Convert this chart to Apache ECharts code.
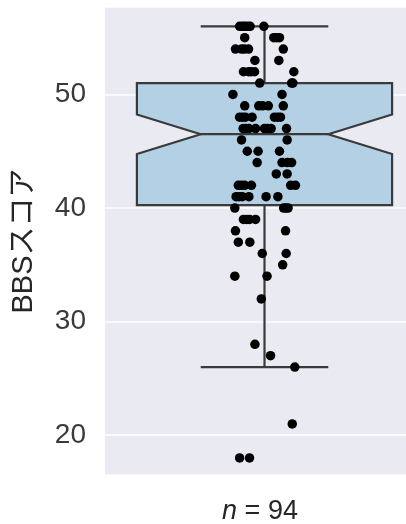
<!DOCTYPE html>
<html>
<head>
<meta charset="utf-8">
<script src="https://cdn.jsdelivr.net/npm/echarts@6/dist/echarts.min.js"></script>
<style>
  html, body { margin: 0; padding: 0; background: #ffffff; }
  #chart { width: 406px; height: 524px; }
</style>
</head>
<body>
<div id="chart"></div>
<script>
// BBS scores, one entry per subject (n = 94), grouped by score
const scores = [
  56, 56, 56, 56, 56, 56,
  55, 55, 55, 55,
  54, 54, 54, 54, 54,
  53, 53,
  52, 52, 52, 52, 52,
  51, 51, 51,
  50, 50,
  49, 49, 49, 49, 49,
  48, 48, 48, 48, 48, 48, 48,
  47, 47, 47, 47, 47, 47, 47, 47,
  46, 46,
  45, 45, 45,
  44, 44, 44, 44,
  43, 43,
  42, 42, 42, 42, 42, 42,
  41, 41, 41, 41, 41, 41,
  40, 40, 40, 40,
  39, 39, 39, 39,
  38, 38,
  37, 37,
  36, 36,
  35,
  34, 34,
  32,
  28,
  27,
  26,
  21,
  18, 18
];

// horizontal strip jitter of each point (category units, 0 = centre)
const jitter = [
  -0.078, -0.062, -0.045, -0.002, -0.069, -0.053,
  -0.062, 0.029, 0.047, 0.038,
  -0.091, -0.072, -0.050, 0.059, -0.063,
  -0.030, 0.045,
  -0.066, -0.050, -0.031, 0.092, -0.042,
  -0.015, 0.089, 0.085,
  -0.099, 0.055,
  -0.062, -0.018, 0.012, 0.059, -0.006,
  -0.078, -0.060, -0.039, 0.031, 0.050, -0.069, 0.041,
  -0.067, -0.049, -0.028, 0.000, 0.021, 0.069, -0.058, 0.009,
  -0.072, 0.071,
  -0.054, -0.020, 0.047,
  -0.023, 0.055, 0.085, 0.072,
  0.037, 0.071,
  -0.082, -0.062, -0.041, 0.082, 0.097, -0.072,
  -0.089, -0.070, -0.049, 0.005, 0.042, -0.080,
  -0.093, 0.060, 0.074, 0.067,
  -0.066, -0.047, -0.028, -0.056,
  -0.091, 0.066,
  -0.082, -0.046,
  -0.007, 0.068,
  0.057,
  -0.093, 0.008,
  -0.010,
  -0.030,
  0.019,
  0.095,
  0.087,
  -0.078, -0.047
];

const yTicks = [20, 30, 40, 50];
const yTitle = 'BBSスコア';

// ---- box statistics (linear percentiles, 1.5 IQR whiskers, notch) ----
const sorted = scores.slice().sort((a, b) => a - b);
function quantile(arr, p) {
  const pos = (arr.length - 1) * p;
  const lo = Math.floor(pos), hi = Math.ceil(pos);
  return arr[lo] + (arr[hi] - arr[lo]) * (pos - lo);
}
const q1 = quantile(sorted, 0.25);
const med = quantile(sorted, 0.5);
const q3 = quantile(sorted, 0.75);
const iqr = q3 - q1;
const whiskerHi = Math.max(...sorted.filter(v => v <= q3 + 1.5 * iqr));
const whiskerLo = Math.min(...sorted.filter(v => v >= q1 - 1.5 * iqr));
const notchHalf = 1.57 * iqr / Math.sqrt(sorted.length);
const boxStats = [whiskerLo, q1, med - notchHalf, med, med + notchHalf, q3, whiskerHi];

const BOX_HALF = 0.4;      // half box width
const NOTCH_HALF = 0.2;    // half width at the notch waist
const CAP_HALF = 0.2;      // half whisker-cap width
const edgeColor = '#3a3a3a';
const textFont = '"Liberation Sans", Arial, "Noto Sans CJK JP", sans-serif';

function renderBox(params, api) {
  const [lo, b1, nLo, m, nHi, b3, hi] = boxStats;
  const c = (x, y) => api.coord([x, y]);
  const poly = [
    c(-BOX_HALF, b1), c(-BOX_HALF, nLo), c(-NOTCH_HALF, m), c(-BOX_HALF, nHi),
    c(-BOX_HALF, b3), c(BOX_HALF, b3), c(BOX_HALF, nHi), c(NOTCH_HALF, m),
    c(BOX_HALF, nLo), c(BOX_HALF, b1)
  ];
  const lineStyle = { stroke: edgeColor, lineWidth: 2.2 };
  const seg = (a, b) => ({ type: 'line', shape: { x1: a[0], y1: a[1], x2: b[0], y2: b[1] }, style: lineStyle });
  return {
    type: 'group',
    children: [
      seg(c(0, b3), c(0, hi)),
      seg(c(0, b1), c(0, lo)),
      seg(c(-CAP_HALF, hi), c(CAP_HALF, hi)),
      seg(c(-CAP_HALF, lo), c(CAP_HALF, lo)),
      { type: 'polygon', shape: { points: poly }, style: { fill: '#b3d0e5', stroke: edgeColor, lineWidth: 2.2 } },
      seg(c(-NOTCH_HALF, m), c(NOTCH_HALF, m))
    ]
  };
}

const chart = echarts.init(document.getElementById('chart'), null, { renderer: 'canvas' });
chart.setOption({
  animation: false,
  textStyle: { fontFamily: textFont },
  grid: {
    left: 105, right: 0, top: 7, bottom: 49,
    outerBoundsMode: 'none',
    show: true, backgroundColor: '#eaeaf2', borderWidth: 0
  },
  xAxis: {
    // the plotting band is cut at the right edge of the canvas
    type: 'value', min: -0.5, max: 0.4436,
    axisLine: { show: false }, axisTick: { show: false },
    axisLabel: { show: false }, splitLine: { show: false },
    name: '{i|n} = 94',
    nameLocation: 'middle', nameGap: 23,
    nameTextStyle: {
      fontSize: 27, color: '#262626', fontFamily: textFont, padding: [0, 0, 0, 9],
      rich: { i: { fontSize: 27, fontStyle: 'italic', color: '#262626', fontFamily: textFont } }
    }
  },
  yAxis: {
    type: 'value', min: 16.5, max: 57.7,
    axisLine: { show: false }, axisTick: { show: false },
    axisLabel: {
      fontSize: 28, color: '#3a3a3a', margin: 19, fontFamily: textFont,
      showMinLabel: false, showMaxLabel: false,
      formatter: v => (yTicks.includes(v) ? String(v) : '')
    },
    splitLine: { lineStyle: { color: '#ffffff', width: 1.6 } },
    name: yTitle, nameLocation: 'middle', nameGap: 66, nameRotate: 90,
    nameTextStyle: { fontSize: 29, color: '#262626', fontFamily: textFont }
  },
  series: [
    {
      type: 'custom', renderItem: renderBox, data: [[0, med]], z: 2, silent: true
    },
    {
      type: 'scatter', z: 5,
      data: scores.map((s, i) => [jitter[i], s]),
      symbolSize: 9.5,
      itemStyle: { color: '#000000', opacity: 1 }
    }
  ]
});
</script>
</body>
</html>
